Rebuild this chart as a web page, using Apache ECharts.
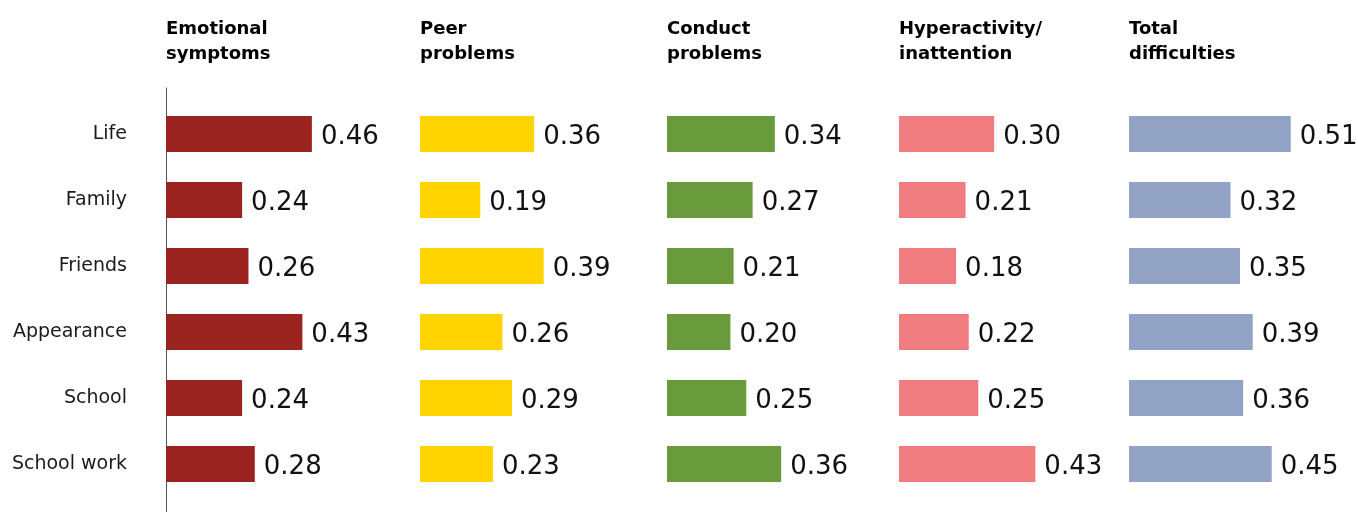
<!DOCTYPE html>
<html>
<head>
<meta charset="utf-8">
<script src="https://cdn.jsdelivr.net/npm/echarts@6/dist/echarts.min.js"></script>
<style>
  html, body { margin: 0; padding: 0; background: #fff; }
  #chart { width: 1358px; height: 512px; }
</style>
</head>
<body>
<div id="chart"></div>
<script>
  var categories = ["Life", "Family", "Friends", "Appearance", "School", "School work"];
  var panelTitles = ["Emotional\nsymptoms", "Peer\nproblems", "Conduct\nproblems", "Hyperactivity/\ninattention", "Total\ndifficulties"];
  var emotional = [0.46, 0.24, 0.26, 0.43, 0.24, 0.28];
  var peer = [0.36, 0.19, 0.39, 0.26, 0.29, 0.23];
  var conduct = [0.34, 0.27, 0.21, 0.20, 0.25, 0.36];
  var hyper = [0.30, 0.21, 0.18, 0.22, 0.25, 0.43];
  var total = [0.51, 0.32, 0.35, 0.39, 0.36, 0.45];

  var seriesData = [emotional, peer, conduct, hyper, total];
  var colors = ["#9a2320", "#ffd400", "#699a3b", "#f07c80", "#91a2c4"];
  var lefts = [166, 420, 667, 899, 1129];

  var myChart = echarts.init(document.getElementById("chart"));

  var grids = [], xAxes = [], yAxes = [], series = [], titles = [];
  for (var i = 0; i < 5; i++) {
    grids.push({ left: lefts[i], top: 101, height: 396, width: 222 });
    xAxes.push({ type: "value", gridIndex: i, min: 0, max: 0.7, show: false });
    yAxes.push({
      type: "category",
      gridIndex: i,
      data: categories,
      inverse: true,
      axisLine: { show: false },
      axisTick: { show: false },
      axisLabel: {
        show: i === 0,
        margin: 39,
        color: "#1a1a1a",
        fontFamily: "DejaVu Sans",
        fontSize: 19
      }
    });
    series.push({
      type: "bar",
      xAxisIndex: i,
      yAxisIndex: i,
      data: seriesData[i],
      barWidth: 36,
      itemStyle: { color: colors[i] },
      label: {
        show: true,
        position: "right",
        distance: 9,
        offset: [0, 3],
        color: "#111",
        fontFamily: "DejaVu Sans",
        fontSize: 26,
        formatter: function (p) { return p.value.toFixed(2); }
      },
      silent: true,
      animation: false
    });
    titles.push({
      text: panelTitles[i],
      left: lefts[i],
      top: 17,
      padding: 0,
      textStyle: {
        fontFamily: "DejaVu Sans",
        fontWeight: "bold",
        fontSize: 18,
        lineHeight: 25,
        color: "#000"
      }
    });
  }

  // vertical axis line on the first panel
  grids.push({ left: 166, top: 88, bottom: 0, width: 10 });
  xAxes.push({ type: "value", gridIndex: 5, show: false });
  yAxes.push({
    type: "value",
    gridIndex: 5,
    axisLine: { show: true, lineStyle: { color: "#555", width: 1 } },
    axisTick: { show: false },
    axisLabel: { show: false },
    splitLine: { show: false }
  });

  var option = {
    animation: false,
    title: titles,
    grid: grids,
    xAxis: xAxes,
    yAxis: yAxes,
    series: series
  };
  myChart.setOption(option);
  window.addEventListener("resize", function () {
    myChart.resize();
  });
</script>
</body>
</html>
